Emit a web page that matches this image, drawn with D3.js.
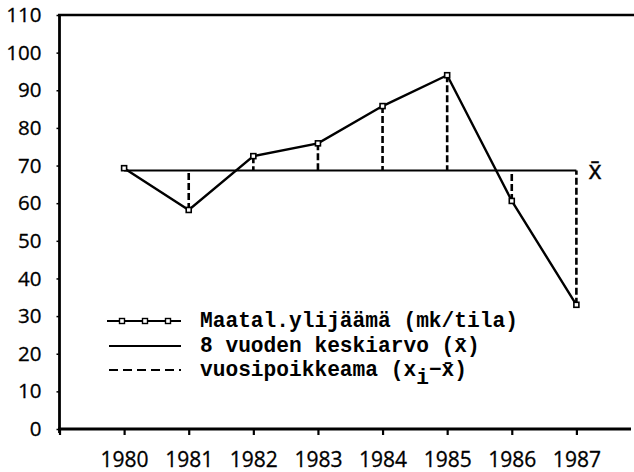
<!DOCTYPE html>
<html><head><meta charset="utf-8">
<script src="https://cdn.jsdelivr.net/npm/d3@7"></script>
<style>body{margin:0;background:#fff}svg{display:block}</style>
</head><body>
<svg id="c" width="634" height="472"></svg>
<script>
const years = [1980, 1981, 1982, 1983, 1984, 1985, 1986, 1987];
const surplus = [69.3, 58.2, 72.5, 75.9, 85.8, 94.0, 60.6, 33.0];
const yTicks = [0, 10, 20, 30, 40, 50, 60, 70, 80, 90, 100, 110];
const xTicks = [1979, 1980, 1981, 1982, 1983, 1984, 1985, 1986, 1987];
const legendLabels = ["Maatal.ylijäämä (mk/tila)", "8 vuoden keskiarvo (x\u0304)", "vuosipoikkeama (x", "i", "\u2212x\u0304)"];
const meanLabel = "x\u0304";

const svg = d3.select("#c");
const x = d3.scaleLinear().domain([1979, 1988]).range([59.5, 641]);
const y = d3.scaleLinear().domain([0, 110]).range([429, 15]);
const mean = d3.mean(surplus);
const pts = years.map((yr, i) => ({yr, v: surplus[i]}));
const sf = "Open Sans, Liberation Sans, sans-serif";

// frame lines
svg.append("line").attr("x1", 58).attr("x2", 634).attr("y1", y(110)).attr("y2", y(110))
  .attr("stroke", "#000").attr("stroke-width", 2.5);
svg.append("line").attr("x1", 59.5).attr("x2", 59.5).attr("y1", y(110) - 1).attr("y2", y(0) + 4)
  .attr("stroke", "#000").attr("stroke-width", 2.8);
svg.append("line").attr("x1", 58).attr("x2", 631).attr("y1", y(0)).attr("y2", y(0))
  .attr("stroke", "#000").attr("stroke-width", 2.8);

// y axis
const ya = svg.append("g").attr("transform", "translate(59.5,0)")
  .call(d3.axisLeft(y).tickValues(yTicks).tickSize(3).tickPadding(15).tickFormat(d3.format("d")));
ya.select(".domain").remove();
ya.selectAll("line").attr("stroke-width", 1.5);
ya.selectAll("text").attr("font-family", sf).attr("font-size", 20.5).attr("fill", "#000")
  .attr("stroke", "#000").attr("stroke-width", 0.3);

// x axis
const xa = svg.append("g").attr("transform", `translate(0,${y(0)})`)
  .call(d3.axisBottom(x).tickValues(xTicks).tickSize(6).tickPadding(17)
    .tickFormat(d => d === 1979 ? "" : String(d)));
xa.select(".domain").remove();
xa.selectAll("line").attr("stroke-width", 2.2);
xa.selectAll("text").attr("font-family", sf).attr("font-size", 21).attr("fill", "#000")
  .attr("stroke", "#000").attr("stroke-width", 0.3);

// mean line
svg.append("line").attr("x1", x(1980)).attr("x2", x(1987)).attr("y1", y(mean)).attr("y2", y(mean))
  .attr("stroke", "#000").attr("stroke-width", 2);
svg.append("text").attr("x", x(1987) + 12).attr("y", y(mean) + 8)
  .attr("font-family", sf).attr("font-size", 25).attr("stroke", "#000").attr("stroke-width", 0.4)
  .text(meanLabel);

// deviation dashes
svg.selectAll(".dev").data(pts).join("line").attr("class", "dev")
  .attr("x1", d => x(d.yr)).attr("x2", d => x(d.yr))
  .attr("y1", d => y(d.v)).attr("y2", y(mean))
  .attr("stroke", "#000").attr("stroke-width", 2.6).attr("stroke-dasharray", "7,3");

// data line
svg.append("path").datum(pts)
  .attr("d", d3.line().x(d => x(d.yr)).y(d => y(d.v)))
  .attr("fill", "none").attr("stroke", "#000").attr("stroke-width", 2.4);
svg.selectAll(".pt").data(pts).join("rect").attr("class", "pt")
  .attr("x", d => x(d.yr) - 2.5).attr("y", d => y(d.v) - 2.5)
  .attr("width", 5).attr("height", 5)
  .attr("fill", "#fff").attr("stroke", "#000").attr("stroke-width", 1.6);

// legend
const lg = svg.append("g");
const lx1 = 107, lx2 = 181, tx = 200;
const rows = [321, 346, 370];
lg.append("line").attr("x1", lx1).attr("x2", lx2).attr("y1", rows[0]).attr("y2", rows[0])
  .attr("stroke", "#000").attr("stroke-width", 2.2);
[122, 145, 168].forEach(cx => {
  lg.append("rect").attr("x", cx - 2.5).attr("y", rows[0] - 2.5).attr("width", 5).attr("height", 5)
    .attr("fill", "#fff").attr("stroke", "#000").attr("stroke-width", 1.4);
});
lg.append("line").attr("x1", lx1 + 2).attr("x2", lx2).attr("y1", rows[1]).attr("y2", rows[1])
  .attr("stroke", "#000").attr("stroke-width", 2.2);
lg.append("line").attr("x1", lx1 + 2).attr("x2", lx2).attr("y1", rows[2]).attr("y2", rows[2])
  .attr("stroke", "#000").attr("stroke-width", 2.2).attr("stroke-dasharray", "9,5");

const tf = "Liberation Mono, Courier New, monospace";
lg.append("text").attr("x", tx).attr("y", rows[0] + 6).attr("font-family", tf)
  .attr("font-weight", "bold").attr("font-size", 21.2).text(legendLabels[0]);
lg.append("text").attr("x", tx).attr("y", rows[1] + 6).attr("font-family", tf)
  .attr("font-weight", "bold").attr("font-size", 21.2).text(legendLabels[1]);
const t3 = lg.append("text").attr("x", tx).attr("y", rows[2] + 6).attr("font-family", tf)
  .attr("font-weight", "bold").attr("font-size", 21.2);
t3.append("tspan").text(legendLabels[2]);
t3.append("tspan").attr("dy", 8).text(legendLabels[3]);
t3.append("tspan").attr("dy", -8).text(legendLabels[4]);
</script>
</body></html>
